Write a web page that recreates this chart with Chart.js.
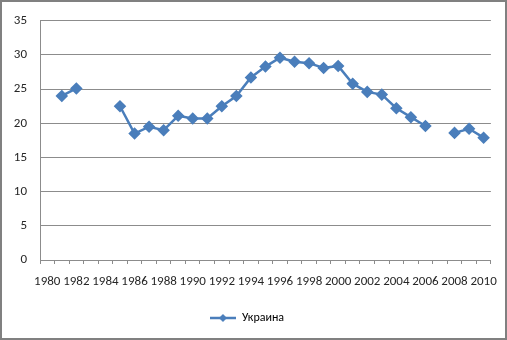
<!DOCTYPE html>
<html>
<head>
<meta charset="utf-8">
<script src="https://cdn.jsdelivr.net/npm/chart.js@4"></script>
<style>
  html, body { margin: 0; padding: 0; background: #fff; }
  #wrap { width: 507px; height: 340px; position: relative; }
</style>
</head>
<body>
<div id="wrap"><canvas id="chart"></canvas></div>
<script>
const years = [];
for (let y = 1980; y <= 2010; y++) years.push(String(y));

const seriesName = 'Украина';
const values = [
    null, 24.0, 25.1, null, null, 22.5, 18.5, 19.5, 19.0, 21.1,
    20.7, 20.7, 22.5, 24.0, 26.7, 28.3, 29.6, 29.0, 28.8, 28.1,
    28.4, 25.8, 24.6, 24.2, 22.2, 20.9, 19.6, null, 18.6, 19.2,
    17.9
];
const yTicks = [0, 5, 10, 15, 20, 25, 30, 35];

const blue = '#4a7ebb';
const grey = '#8c8c8c';
const family = 'Carlito, "Liberation Sans", Arial, sans-serif';

// legend symbol: short line with a diamond in the middle
function legendSymbol() {
    const c = document.createElement('canvas');
    c.width = 26; c.height = 10;
    const g = c.getContext('2d');
    g.strokeStyle = blue;
    g.lineWidth = 2.5;
    g.beginPath(); g.moveTo(0, 5); g.lineTo(26, 5); g.stroke();
    g.fillStyle = blue;
    g.beginPath(); g.moveTo(13, 1); g.lineTo(17, 5); g.lineTo(13, 9); g.lineTo(9, 5); g.closePath(); g.fill();
    return c;
}

const frame = {
    id: 'frame',
    afterDraw(ch) {
        const ctx = ch.ctx;
        ctx.save();
        ctx.strokeStyle = '#808080';
        ctx.lineWidth = 2;
        ctx.strokeRect(1, 1, ch.width - 2, ch.height - 2);
        ctx.restore();
    }
};

Chart.defaults.font = { family, size: 13 };
Chart.defaults.color = '#262626';

new Chart(document.getElementById('chart'), {
    type: 'line',
    data: {
        labels: years,
        datasets: [{
            label: seriesName,
            data: values,
            borderColor: blue,
            backgroundColor: blue,
            borderWidth: 2.5,
            pointStyle: 'rectRot',
            pointRadius: 4.5,
            pointBackgroundColor: blue,
            pointBorderColor: blue,
            spanGaps: false,
            tension: 0
        }]
    },
    options: {
        responsive: true,
        maintainAspectRatio: false,
        animation: false,
        layout: { padding: { left: 0, right: 13, top: 17, bottom: 6 } },
        plugins: {
            tooltip: { enabled: false },
            legend: {
                position: 'bottom',
                labels: {
                    font: { family, size: 12 },
                    usePointStyle: true,
                    pointStyleWidth: 26,
                    padding: 10,
                    generateLabels: ch => [{
                        text: seriesName,
                        pointStyle: legendSymbol(),
                        fillStyle: blue,
                        strokeStyle: blue,
                        lineWidth: 0,
                        datasetIndex: 0
                    }]
                }
            }
        },
        scales: {
            x: {
                offset: true,
                grid: { offset: true, drawOnChartArea: false, drawTicks: true, tickLength: 4, color: grey },
                border: { display: true, color: grey },
                ticks: {
                    autoSkip: false,
                    maxRotation: 0,
                    minRotation: 0,
                    padding: 10,
                    callback: (v, i) => (i % 2 === 0 ? years[i] : '')
                },
                afterFit: s => { s.height = 42; }
            },
            y: {
                min: 0,
                max: 35,
                afterBuildTicks: s => { s.ticks = yTicks.map(v => ({ value: v })); },
                grid: { color: grey, drawTicks: false },
                border: { display: true, color: grey },
                ticks: { padding: 13 },
                afterFit: s => { s.width = 40; }
            }
        }
    },
    plugins: [frame]
});
</script>
</body>
</html>
